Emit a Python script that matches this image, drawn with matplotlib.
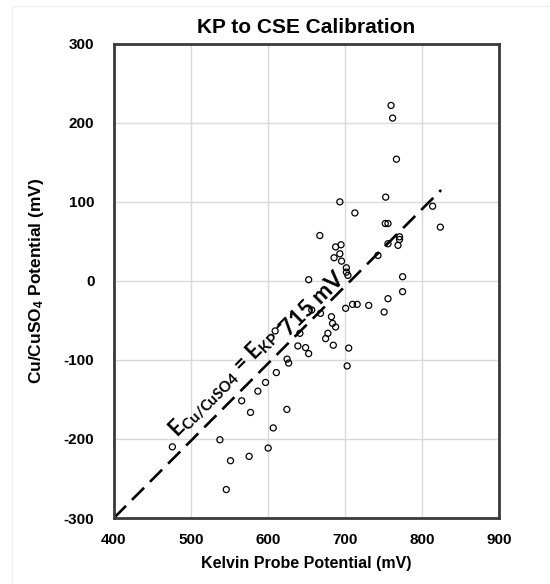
import matplotlib
matplotlib.use("Agg")
import matplotlib.pyplot as plt
from matplotlib.patches import Rectangle

# ---------- DATA ----------
kp_mv = [760, 762, 767, 753, 752.5, 756, 771, 771, 756, 769, 814, 824,
         775, 775, 756, 751, 743, 667.5, 688, 695, 693.5, 686, 695.7, 702,
         702, 704, 653, 731, 710, 716, 701, 657, 668.4, 682.6, 684, 688,
         609.5, 641.6, 678, 675, 685, 639, 649, 653, 705, 625, 627, 703,
         693.5, 713, 611, 597, 587, 566, 577.5, 624.7, 537.7, 476, 607,
         600.4, 575.7, 551.5, 546]
cse_mv = [222, 206, 154, 106, 72.6, 72.6, 55.8, 52.4, 47, 45, 94.5, 68,
          5.3, -13.6, -22.5, -39.4, 32.2, 57.4, 43, 45.7, 34.3, 29.3, 25, 16.6,
          11.1, 7, 1.5, -31, -29.7, -29.7, -34.7, -36.8, -41, -45.3, -53.7, -58.3,
          -63.3, -66.3, -66.3, -73, -81.4, -82.3, -84.4, -92, -85, -99, -104, -107.6,
          100, 86, -116, -128.5, -139.5, -151.7, -166.4, -162.6, -201, -210, -186,
          -211.5, -222, -227.5, -264]

# calibration line end points (E_CSE = E_KP - 715 mV, as drawn)
line_x = [400, 825]
line_y = [-300, 115]

x_ticks = [400, 500, 600, 700, 800, 900]
y_ticks = [-300, -200, -100, 0, 100, 200, 300]

SPINE = "#3a3a3a"
GRID = "#d9d9d9"

plt.rcParams["font.family"] = ["Liberation Sans", "DejaVu Sans"]
plt.rcParams["mathtext.default"] = "regular"
plt.rcParams["axes.unicode_minus"] = False

fig = plt.figure(figsize=(5.5, 5.84), dpi=100)
ax = fig.add_axes([0.207, 0.113, 0.700, 0.812])

# faint chart-area border like the source
fig.patches.append(Rectangle((12 / 550, -0.05), 1.2, 1.04,
                             transform=fig.transFigure, fill=False,
                             edgecolor="#eeeeee", lw=1, zorder=0))

ax.plot(line_x, line_y, color="black", lw=1.9, dashes=(6.5, 3.2),
        solid_capstyle="butt", zorder=2)
ax.scatter(kp_mv, cse_mv, s=19, facecolors="none", edgecolors="black",
           linewidths=0.9, zorder=3)

ax.set_xlim(400, 900)
ax.set_ylim(-300, 300)
ax.set_xticks(x_ticks)
ax.set_xticklabels([str(v) for v in x_ticks], fontweight="bold")
ax.set_yticks(y_ticks)
ax.set_yticklabels([str(v) for v in y_ticks], fontweight="bold")
ax.grid(True, color=GRID, lw=1)
ax.set_axisbelow(True)
for s in ax.spines.values():
    s.set_color(SPINE)
    s.set_linewidth(2.0)
ax.tick_params(length=0, labelsize=11)
ax.tick_params(axis="x", pad=11)
ax.tick_params(axis="y", pad=14)

ax.set_title("KP to CSE Calibration", fontsize=15, fontweight="bold", pad=8)
ax.set_xlabel("Kelvin Probe Potential (mV)", fontsize=11.5, fontweight="bold",
              labelpad=6)
ax.set_ylabel("Cu/CuSO$_4$ Potential (mV)", fontsize=12.5, fontweight="bold",
              labelpad=13)

# equation written along the line
ax.text(482, -199, r"E$_{Cu/CuSO4}$ = E$_{KP}$ -", family=["Lato", "DejaVu Sans"],
        fontsize=15.5, fontweight="bold", rotation=45, rotation_mode="anchor",
        ha="left", va="baseline")
ax.text(701, 0, "715 mV", family=["Lato", "DejaVu Sans"],
        fontsize=16.5, fontweight="bold", rotation=45, rotation_mode="anchor",
        ha="right", va="baseline")

fig.savefig("out.png", dpi=100)
